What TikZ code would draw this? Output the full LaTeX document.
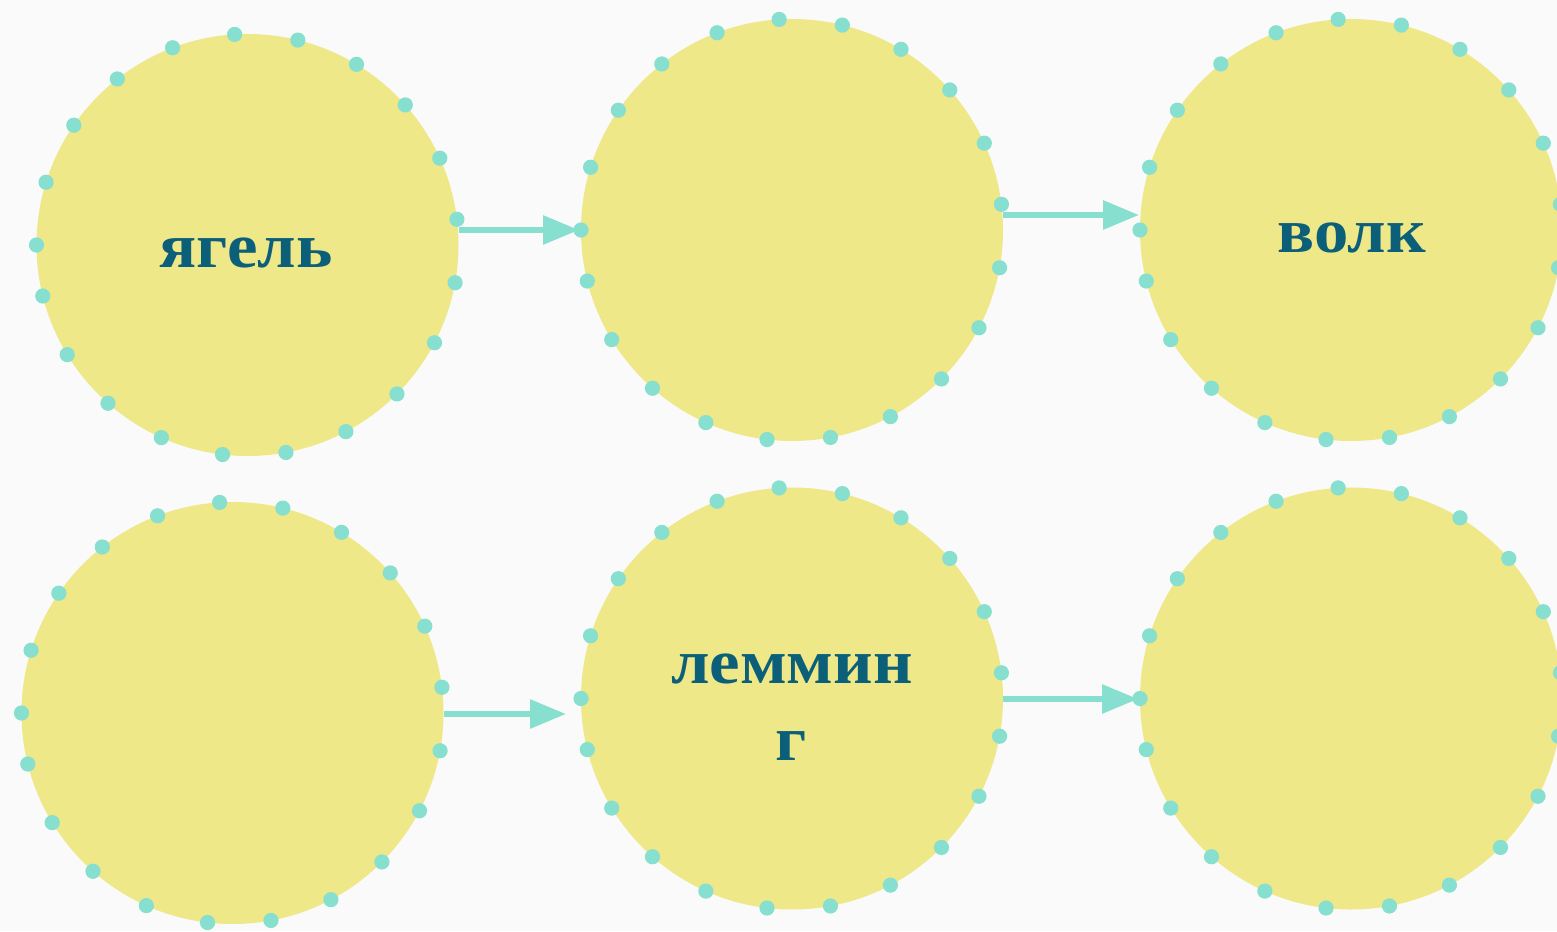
\documentclass[tikz,border=0pt]{standalone}
\usepackage{fontspec}
\setmainfont{Liberation Serif}
\newfontfamily\lblfont[FakeStretch=1.09]{Liberation Serif}
\usetikzlibrary{arrows.meta}
\definecolor{bgc}{HTML}{FAFAFA}
\definecolor{fillc}{HTML}{EEE888}
\definecolor{dotc}{HTML}{86DFCF}
\definecolor{txtc}{HTML}{0B5F78}
\tikzset{
  bubble/.style={circle, fill=fillc, draw=none, minimum size=422pt, inner sep=0pt, outer sep=0pt},
  lbl/.style={anchor=base, text=txtc, font=\lblfont\fontsize{63}{63}\selectfont\bfseries, inner sep=0pt},
  flow/.style={draw=dotc, line width=6pt, -{Triangle[length=36pt,width=28pt]}},
}
\begin{document}
\begin{tikzpicture}[x=1pt,y=-1pt]
\fill[bgc] (0,0) rectangle (1557,931);
\useasboundingbox (0,0) rectangle (1557,931);
\node[bubble] (c1) at (247.5,245) {};
\node[bubble] (c2) at (792,230) {};
\node[bubble] (c3) at (1351,230) {};
\node[bubble] (c4) at (232.5,713) {};
\node[bubble] (c5) at (792,698.5) {};
\node[bubble] (c6) at (1351,698.5) {};
% arrows
\coordinate (a1s) at (459,230);
\coordinate (a1e) at (579,230);
\coordinate (a2s) at (1003,215);
\coordinate (a2e) at (1139,215);
\coordinate (a3s) at (444,714);
\coordinate (a3e) at (566,714);
\coordinate (a4s) at (1003,699);
\coordinate (a4e) at (1138,699);
\draw[flow] (a1s) -- (a1e);
\draw[flow] (a2s) -- (a2e);
\draw[flow] (a3s) -- (a3e);
\draw[flow] (a4s) -- (a4e);
% dots
\foreach \n in {c1,c2,c3,c4,c5,c6}{
  \foreach \k in {0,...,20}{
    \fill[dotc, shift={(\n.center)}] ({180-\k*17.3}:211pt) circle (7.6pt);
  }
}
% labels
\node[lbl] (t1) at (246,267) {ягель};
\node[lbl] (t3) at (1352,252) {волк};
\node[lbl] (t5a) at (792,683) {леммин};
\node[lbl] (t5b) at (791,760) {г};
\end{tikzpicture}
\end{document}
